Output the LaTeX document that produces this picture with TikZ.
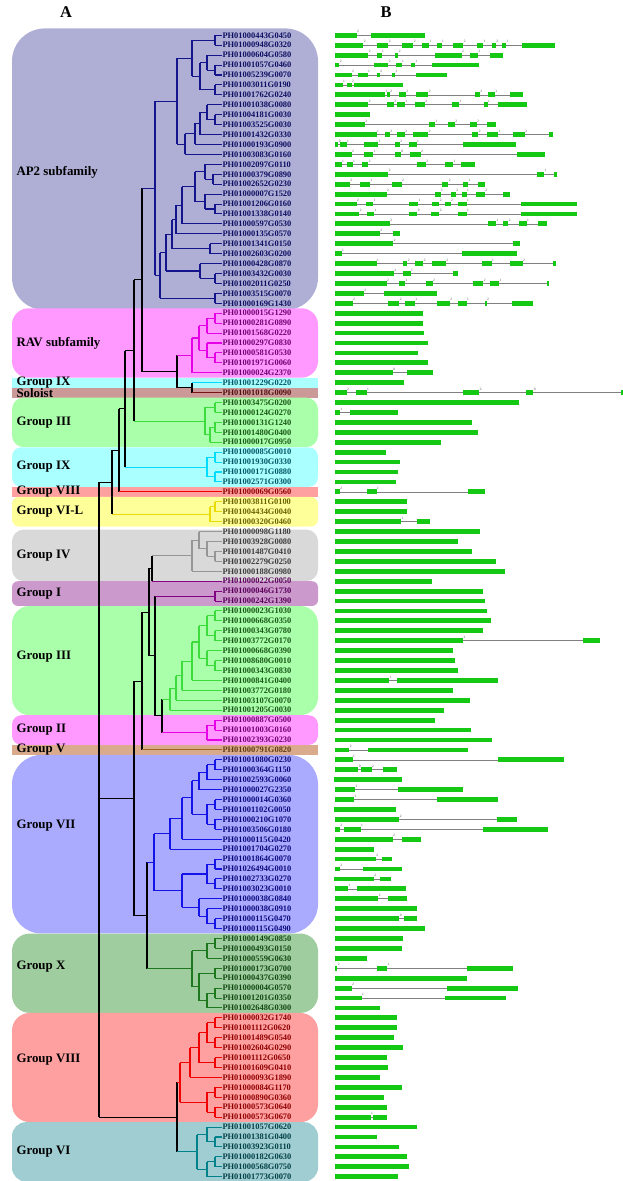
\documentclass[tikz,border=0pt]{standalone}
\usepackage{fontspec}
\setmainfont{Liberation Serif}
\usetikzlibrary{calc}
\definecolor{bap}{RGB}{175,175,214}
\definecolor{brav}{RGB}{255,153,255}
\definecolor{bix}{RGB}{170,255,255}
\definecolor{bsol}{RGB}{204,153,153}
\definecolor{bthree}{RGB}{170,255,170}
\definecolor{beight}{RGB}{255,160,160}
\definecolor{bsixl}{RGB}{255,255,153}
\definecolor{bfour}{RGB}{217,217,217}
\definecolor{bone}{RGB}{204,153,204}
\definecolor{bfive}{RGB}{217,170,140}
\definecolor{bseven}{RGB}{170,170,255}
\definecolor{bten}{RGB}{160,205,160}
\definecolor{bsix}{RGB}{160,205,210}
\definecolor{apblue}{RGB}{20,20,140}
\definecolor{crav}{RGB}{230,0,230}
\definecolor{cix}{RGB}{0,220,255}
\definecolor{csol}{RGB}{120,20,20}
\definecolor{cthree}{RGB}{60,220,60}
\definecolor{ceight}{RGB}{240,0,0}
\definecolor{csixl}{RGB}{235,220,0}
\definecolor{cfour}{RGB}{150,150,150}
\definecolor{cone}{RGB}{130,0,130}
\definecolor{cfive}{RGB}{160,100,30}
\definecolor{cseven}{RGB}{20,20,230}
\definecolor{cten}{RGB}{30,120,30}
\definecolor{csix}{RGB}{0,130,140}
\definecolor{exongreen}{RGB}{20,200,20}

% tree joint: name, x, child A, colour A, child B, colour B, colour of the vertical
\newcommand\jn[7]{%
  \coordinate (#1m) at ($(#3)!.5!(#5)$);
  \coordinate (#1) at (#1m -| #2,0);
  \draw[#7] (#1 |- #3) -- (#1 |- #5);
  \draw[#4] (#1 |- #3) -- (#3);
  \draw[#6] (#1 |- #5) -- (#5);}
\newcommand\tn[5]{\jn{#2}{#3}{#4}{#1}{#5}{#1}{#1}}
% group box: [label shift], first leaf, last leaf, fill, radius, label
\newcommand\grp[6][0]{%
  \fill[#4, rounded corners=#5] (12,{35.3+(#2-1)*9.925-4.9}) rectangle (318,{35.3+(#3-1)*9.925+4.9});
  \node[grplabel] at (16,{35.3+(#2+#3-2)*9.925/2+#1}) {#6};}
% gene model: leaf row, exons start/end/phase
\newcommand\gene[2]{%
  \pgfmathsetmacro\gy{35.3+(#1-1)*9.925}
  \foreach \a/\b/\p [count=\c] in {#2}{%
    \ifnum\c>1 \draw[intron] (\lastb,\gy) -- (\a,\gy);\fi
    \fill[exongreen] (\a,\gy-2.4) rectangle (\b,\gy+2.4);
    \node[phase] at (\b+4,\gy-1.8) {\p};
    \xdef\lastb{\b}}}

\tikzset{
  leaf/.style={anchor=west, inner sep=0pt, font=\fontsize{7.2}{8}\selectfont\bfseries},
  grplabel/.style={anchor=west, inner sep=0pt, font=\fontsize{11}{12}\selectfont\bfseries},
  intron/.style={gray, line width=0.2mm},
  phase/.style={anchor=south, inner sep=0pt, text=black!70, font=\fontsize{3}{3}\selectfont},
}

\begin{document}
\begin{tikzpicture}[x=0.3mm, y=-0.3mm, line width=0.9pt]
\useasboundingbox (0,0) rectangle (623,1181);

% coloured groups
\grp[3]{0.8}{28.2}{bap}{28}{AP2 subfamily}
\grp{29}{35}{brav}{14}{RAV subfamily}
\grp{36}{36}{bix}{0}{Group IX}
\grp{37}{37}{bsol}{0}{Soloist}
\grp{38}{42}{bthree}{10}{Group III}
\grp{43}{46}{bix}{8}{Group IX}
\grp{47}{47}{beight}{0}{Group VIII}
\grp{48}{50}{bsixl}{6}{Group VI-L}
\grp{51.3}{55.5}{bfour}{10}{Group IV}
\grp{56.5}{58}{bone}{5}{Group I}
\grp[-4]{59}{69}{bthree}{15}{Group III}
\grp{70}{72}{brav}{8}{Group II}
\grp{73}{73}{bfive}{0}{Group V}
\grp[-19]{74}{91}{bseven}{25}{Group VII}
\grp[-7]{92}{99}{bten}{15}{Group X}
\grp[-8]{100}{110}{beight}{15}{Group VIII}
\grp{111}{116}{bsix}{12}{Group VI}

\node[font=\fontsize{14}{14}\selectfont\bfseries] (pa) at (66,12) {A};
\node[font=\fontsize{14}{14}\selectfont\bfseries] (pb) at (386,12) {B};

% leaves
\foreach \n [count=\k from 1] in {PH01000443G0450,PH01000948G0320,PH01000604G0580,PH01001057G0460,PH01005239G0070,PH01003011G0190,PH01001762G0240,PH01001038G0080,PH01004181G0030,PH01003525G0030,PH01001432G0330,PH01000193G0900,PH01003083G0160,PH01002097G0110,PH01000379G0890,PH01002652G0230,PH01000007G1520,PH01001206G0160,PH01001338G0140,PH01000597G0530,PH01000135G0570,PH01001341G0150,PH01002603G0200,PH01000428G0870,PH01003432G0030,PH01002011G0250,PH01003515G0070,PH01000169G1430}
  \node[leaf, text=apblue!70!black] (l\k) at (222,{35.3+(\k-1)*9.925}) {\n};
\foreach \n [count=\k from 29] in {PH01000015G1290,PH01000281G0890,PH01001568G0220,PH01000297G0830,PH01000581G0530,PH01001971G0060,PH01000024G2370}
  \node[leaf, text=crav!50!black] (l\k) at (222,{35.3+(\k-1)*9.925}) {\n};
\node[leaf, text=cix!40!black] (l36) at (222,{35.3+35*9.925}) {PH01001229G0220};
\node[leaf, text=csol!70!black] (l37) at (222,{35.3+36*9.925}) {PH01001018G0090};
\foreach \n [count=\k from 38] in {PH01003475G0200,PH01000124G0270,PH01000131G1240,PH01001480G0400,PH01000017G0950}
  \node[leaf, text=cthree!40!black] (l\k) at (222,{35.3+(\k-1)*9.925}) {\n};
\foreach \n [count=\k from 43] in {PH01000085G0010,PH01001930G0330,PH01000171G0880,PH01002571G0300}
  \node[leaf, text=cix!40!black] (l\k) at (222,{35.3+(\k-1)*9.925}) {\n};
\node[leaf, text=ceight!60!black] (l47) at (222,{35.3+46*9.925}) {PH01000069G0560};
\foreach \n [count=\k from 48] in {PH01003811G0100,PH01004434G0040,PH01000320G0460}
  \node[leaf, text=csixl!45!black] (l\k) at (222,{35.3+(\k-1)*9.925}) {\n};
\foreach \n [count=\k from 51] in {PH01000098G1180,PH01003928G0080,PH01001487G0410,PH01002279G0250,PH01000188G0980}
  \node[leaf, text=cfour!40!black] (l\k) at (222,{35.3+(\k-1)*9.925}) {\n};
\foreach \n [count=\k from 56] in {PH01000022G0050,PH01000046G1730,PH01000242G1390}
  \node[leaf, text=cone!70!black] (l\k) at (222,{35.3+(\k-1)*9.925}) {\n};
\foreach \n [count=\k from 59] in {PH01000023G1030,PH01000668G0350,PH01000343G0780,PH01003772G0170,PH01000668G0390,PH01008680G0010,PH01000343G0830,PH01000841G0400,PH01003772G0180,PH01003107G0070,PH01001205G0030}
  \node[leaf, text=cthree!40!black] (l\k) at (222,{35.3+(\k-1)*9.925}) {\n};
\foreach \n [count=\k from 70] in {PH01000887G0500,PH01001003G0160,PH01002393G0230}
  \node[leaf, text=crav!50!black] (l\k) at (222,{35.3+(\k-1)*9.925}) {\n};
\node[leaf, text=cfive!60!black] (l73) at (222,{35.3+72*9.925}) {PH01000791G0820};
\foreach \n [count=\k from 74] in {PH01001080G0230,PH01000364G1150,PH01002593G0060,PH01000027G2350,PH01000014G0360,PH01001102G0050,PH01000210G1070,PH01003506G0180,PH01000115G0420,PH01001704G0270,PH01001864G0070,PH01026494G0010,PH01002733G0270,PH01003023G0010,PH01000038G0840,PH01000038G0910,PH01000115G0470,PH01000115G0490}
  \node[leaf, text=cseven!55!black] (l\k) at (222,{35.3+(\k-1)*9.925}) {\n};
\foreach \n [count=\k from 92] in {PH01000149G0850,PH01000493G0150,PH01000559G0630,PH01000173G0700,PH01000437G0390,PH01000004G0570,PH01001201G0350,PH01002648G0300}
  \node[leaf, text=cten!60!black] (l\k) at (222,{35.3+(\k-1)*9.925}) {\n};
\foreach \n [count=\k from 100] in {PH01000032G1740,PH01001112G0620,PH01001489G0540,PH01002604G0290,PH01001112G0650,PH01001609G0410,PH01000093G1890,PH01000084G1170,PH01000890G0360,PH01000573G0640,PH01000573G0670}
  \node[leaf, text=ceight!60!black] (l\k) at (222,{35.3+(\k-1)*9.925}) {\n};
\foreach \n [count=\k from 111] in {PH01001057G0620,PH01001381G0400,PH01003923G0110,PH01000182G0630,PH01000568G0750,PH01001773G0070}
  \node[leaf, text=csix!50!black] (l\k) at (222,{35.3+(\k-1)*9.925}) {\n};

% AP2 subfamily
\tn{apblue}{a1}{215}{l1.west}{l2.west}
\tn{apblue}{a2}{215}{l4.west}{l5.west}
\tn{apblue}{a3}{207}{l3.west}{a2}
\tn{apblue}{a4}{215}{l6.west}{l7.west}
\tn{apblue}{a5}{200}{a3}{a4}
\tn{apblue}{a6}{192}{a1}{a5}
\tn{apblue}{a7}{215}{l9.west}{l10.west}
\tn{apblue}{a8}{207}{l8.west}{a7}
\tn{apblue}{a9}{200}{a8}{l11.west}
\tn{apblue}{a10}{195}{a9}{l12.west}
\tn{apblue}{a11}{185}{a10}{l13.west}
\tn{apblue}{a12}{177}{a6}{a11}
\tn{apblue}{a13}{213}{l15.west}{l16.west}
\tn{apblue}{a14}{205}{l14.west}{a13}
\tn{apblue}{a15}{215}{l18.west}{l19.west}
\tn{apblue}{a16}{205}{l17.west}{a15}
\tn{apblue}{a17}{195}{a14}{a16}
\tn{apblue}{a18}{182}{a17}{l20.west}
\tn{apblue}{a19}{176}{a18}{l21.west}
\tn{apblue}{a20}{210}{l22.west}{l23.west}
\tn{apblue}{a21}{172}{a19}{a20}
\tn{apblue}{a22}{215}{l25.west}{l26.west}
\tn{apblue}{a24}{200}{l24.west}{a22}
\tn{apblue}{a25}{166}{a21}{a24}
\tn{apblue}{a23}{215}{l27.west}{l28.west}
\tn{apblue}{a26}{160}{a25}{a23}
\tn{apblue}{a27}{155}{a12}{a26}
% RAV subfamily
\tn{crav}{r1}{215}{l29.west}{l30.west}
\tn{crav}{r2}{207}{r1}{l31.west}
\tn{crav}{r3}{215}{l33.west}{l34.west}
\tn{crav}{r4}{207}{l32.west}{r3}
\tn{crav}{r5}{199}{r2}{r4}
\tn{crav}{r6}{192}{r5}{l35.west}
% Group III
\tn{cthree}{g1}{215}{l38.west}{l39.west}
\tn{cthree}{g2}{215}{l40.west}{l41.west}
\tn{cthree}{g3}{210}{g2}{l42.west}
\tn{cthree}{g4}{205}{g1}{g3}
% Group IX
\tn{cix}{c1}{215}{l43.west}{l44.west}
\tn{cix}{c2}{215}{l45.west}{l46.west}
\tn{cix}{c3}{207}{c1}{c2}
% Group VI-L
\tn{csixl}{y1}{215}{l48.west}{l49.west}
\tn{csixl}{y2}{210}{y1}{l50.west}
% Group IV and I
\tn{cfour}{i1}{215}{l53.west}{l54.west}
\tn{cfour}{i2}{207}{l52.west}{i1}
\tn{cfour}{i3}{199}{l51.west}{i2}
\tn{cfour}{i4}{192}{i3}{l55.west}
\tn{cone}{p1}{215}{l57.west}{l58.west}
% Group III
\tn{cthree}{h1}{215}{l59.west}{l60.west}
\tn{cthree}{h2}{215}{l61.west}{l62.west}
\tn{cthree}{h3}{207}{h1}{h2}
\tn{cthree}{h4}{215}{l64.west}{l65.west}
\tn{cthree}{h5}{207}{l63.west}{h4}
\tn{cthree}{h6}{199}{h3}{h5}
\tn{cthree}{h7}{192}{h6}{l66.west}
\tn{cthree}{h8}{182}{h7}{l67.west}
\tn{cthree}{h9}{176}{h8}{l68.west}
\tn{cthree}{h10}{170}{h9}{l69.west}
% Group II
\tn{crav}{q1}{215}{l70.west}{l71.west}
\tn{crav}{q2}{207}{q1}{l72.west}
% Group VII
\tn{cseven}{v1}{215}{l74.west}{l75.west}
\tn{cseven}{v2}{207}{v1}{l76.west}
\tn{cseven}{v3}{199}{v2}{l77.west}
\tn{cseven}{v4}{215}{l78.west}{l79.west}
\tn{cseven}{v5}{215}{l80.west}{l81.west}
\tn{cseven}{v6}{207}{v4}{v5}
\tn{cseven}{v7}{192}{v3}{v6}
\tn{cseven}{v8}{182}{v7}{l82.west}
\tn{cseven}{v9}{170}{v8}{l83.west}
\tn{cseven}{v10}{215}{l84.west}{l85.west}
\tn{cseven}{v11}{215}{l86.west}{l87.west}
\tn{cseven}{v12}{207}{v10}{v11}
\tn{cseven}{v13}{215}{l90.west}{l91.west}
\tn{cseven}{v14}{207}{l89.west}{v13}
\tn{cseven}{v15}{199}{l88.west}{v14}
\tn{cseven}{v16}{182}{v12}{v15}
\tn{cseven}{v17}{154}{v9}{v16}
% Group X
\tn{cten}{k1}{215}{l92.west}{l93.west}
\tn{cten}{k2}{207}{k1}{l94.west}
\tn{cten}{k3}{215}{l95.west}{l96.west}
\tn{cten}{k4}{215}{l97.west}{l98.west}
\tn{cten}{k5}{207}{k4}{l99.west}
\tn{cten}{k6}{199}{k3}{k5}
\tn{cten}{k7}{192}{k2}{k6}
% Group VIII
\tn{ceight}{e1}{215}{l100.west}{l101.west}
\tn{ceight}{e2}{215}{l102.west}{l103.west}
\tn{ceight}{e3}{207}{e1}{e2}
\tn{ceight}{e4}{215}{l104.west}{l105.west}
\tn{ceight}{e5}{199}{e3}{e4}
\tn{ceight}{e6}{190}{e5}{l106.west}
\tn{ceight}{e7}{215}{l107.west}{l108.west}
\tn{ceight}{e8}{215}{l109.west}{l110.west}
\tn{ceight}{e9}{207}{e7}{e8}
\tn{ceight}{e10}{180}{e6}{e9}
% Group VI
\tn{csix}{f1}{215}{l112.west}{l113.west}
\tn{csix}{f2}{207}{l111.west}{f1}
\tn{csix}{f3}{215}{l114.west}{l115.west}
\tn{csix}{f4}{207}{f3}{l116.west}
\tn{csix}{f5}{197}{f2}{f4}
% backbone
\jn{s1}{192}{l36.west}{cix}{l37.west}{csol}{black}
\jn{s0}{177}{r6}{crav}{s1}{black}{black}
\jn{n1}{142}{a27}{apblue}{s0}{black}{black}
\jn{n2}{134}{n1}{black}{g4}{cthree}{black}
\jn{n3}{125}{n2}{black}{c3}{cix}{black}
\jn{n4}{119}{n3}{black}{l47.west}{ceight}{black}
\jn{n5}{112}{n4}{black}{y2}{csixl}{black}
\jn{m1}{162}{h10}{cthree}{q2}{crav}{black}
\jn{m2}{155}{p1}{cone}{m1}{black}{black}
\jn{m3}{152}{i4}{cfour}{l56.west}{cone}{black}
\jn{m4}{149}{m3}{black}{m2}{black}{black}
\jn{m5}{142}{m4}{black}{l73.west}{cfive}{black}
\jn{m6}{147}{v17}{cseven}{k7}{cten}{black}
\jn{m7}{134}{m5}{black}{m6}{black}{black}
\jn{m8}{177}{e10}{ceight}{f5}{csix}{black}
\jn{rt1}{99}{n5}{black}{m7}{black}{black}
\jn{rt}{99}{rt1}{black}{m8}{black}{black}

% gene structures
\begin{scope}[x=0.1mm, xshift=60mm]
\gene{1}{405/470/2, 512/675/}
\gene{2}{405/490/2, 530/565/2, 605/640/2, 665/688/1, 710/725/1, 760/790/2, 830/850/1, 875/888/2, 905/918/1, 965/1065/}
\gene{3}{405/505/2, 530/545/1, 585/595/2, 705/785/2, 810/835/1, 870/908/}
\gene{4}{405/418/2, 522/565/2, 588/605/1, 632/645/1, 697/838/}
\gene{5}{405/455/2, 475/503/1, 530/540/2, 575/585/1, 648/740/}
\gene{6}{405/428/1, 440/455/2, 462/608/}
\gene{7}{405/555/1, 560/570/2, 597/618/2, 648/685/2, 825/840/2, 865/885/1, 930/968/}
\gene{8}{405/505/2, 560/582/2, 592/615/1, 645/675/2, 757/778/1, 853/863/1, 895/980/}
\gene{9}{405/510/}
\gene{10}{405/495/2, 688/705/1, 745/765/2, 810/830/2, 860/888/}
\gene{11}{405/530/1, 555/570/2, 592/615/2, 640/685/2, 815/835/2, 860/895/1, 940/975/2, 1048/1060/}
\gene{12}{405/415/0, 420/440/1, 492/535/1, 585/600/2, 628/650/1, 790/948/}
\gene{13}{405/455/2, 492/520/1, 585/603/0, 630/662/2, 952/1035/}
\gene{14}{405/425/1, 440/458/1, 485/505/2, 652/678/2, 735/760/1, 782/825/}
\gene{15}{405/565/2, 1012/1032/1, 1062/1072/}
\gene{16}{405/450/2, 480/510/1, 577/605/2, 725/745/2, 790/805/1, 835/855/}
\gene{17}{405/560/2, 705/722/1, 752/768/2, 785/800/1, 828/855/2, 910/930/}
\gene{18}{405/470/2, 497/520/1, 628/655/1, 695/718/2, 735/752/2, 775/800/1, 962/1130/}
\gene{19}{405/478/2, 502/522/1, 628/652/0, 692/718/2, 775/800/1, 962/1130/}
\gene{20}{405/570/2, 865/888/1, 908/925/2, 958/980/1, 1015/1040/}
\gene{21}{405/540/2, 580/600/}
\gene{22}{405/580/2, 940/960/}
\gene{23}{405/425/1, 785/950/}
\gene{24}{405/530/1, 610/622/2, 645/670/2, 695/738/2, 845/875/1, 930/968/2, 1058/1068/}
\gene{25}{405/582/2, 610/632/1, 758/775/}
\gene{26}{405/560/2, 598/615/1, 678/698/2, 820/850/2, 870/898/1, 1040/1048/}
\gene{27}{405/492/2, 552/712/}
\gene{28}{405/458/2, 565/598/2, 615/645/1, 710/750/2, 775/800/1, 855/860/2, 935/998/}
\gene{29}{405/668/}
\gene{30}{405/670/}
\gene{31}{405/672/}
\gene{32}{405/685/}
\gene{33}{405/655/}
\gene{34}{405/685/}
\gene{35}{405/578/0, 620/698/}
\gene{36}{405/612/}
\gene{37}{405/440/2, 468/500/1, 788/838/2, 978/1000/0, 1262/1269/}
\gene{38}{405/958/}
\gene{39}{405/420/1, 450/595/}
\gene{40}{405/815/}
\gene{41}{405/835/}
\gene{42}{405/722/}
\gene{43}{405/558/}
\gene{44}{405/600/}
\gene{45}{405/595/}
\gene{46}{405/587/}
\gene{47}{405/420/2, 502/530/1, 805/855/}
\gene{48}{405/622/}
\gene{49}{405/620/}
\gene{50}{405/603/1, 650/690/}
\gene{51}{405/840/}
\gene{52}{405/775/}
\gene{53}{405/815/}
\gene{54}{405/888/}
\gene{55}{405/915/}
\gene{56}{405/695/}
\gene{57}{405/848/}
\gene{58}{405/855/}
\gene{59}{405/862/}
\gene{60}{405/872/}
\gene{61}{405/850/}
\gene{62}{405/790/1, 1148/1200/}
\gene{63}{405/760/}
\gene{64}{405/765/}
\gene{65}{405/775/}
\gene{66}{405/568/1, 590/895/}
\gene{67}{405/760/}
\gene{68}{405/810/}
\gene{69}{405/732/}
\gene{70}{405/705/}
\gene{71}{405/812/}
\gene{72}{405/875/}
\gene{73}{405/448/2, 505/805/}
\gene{74}{405/458/1, 893/1093/}
\gene{75}{405/475/0, 482/515/2, 548/592/}
\gene{76}{402/607/}
\gene{77}{405/465/1, 595/790/}
\gene{78}{405/462/1, 710/895/}
\gene{79}{402/587/}
\gene{80}{405/598/2, 890/952/}
\gene{81}{405/420/2, 432/482/1, 850/1045/}
\gene{82}{405/578/2, 605/662/}
\gene{83}{405/522/}
\gene{84}{405/528/2, 545/575/}
\gene{85}{405/420/2, 488/607/}
\gene{86}{402/522/2, 540/572/}
\gene{87}{405/445/1, 472/618/}
\gene{88}{405/535/2, 565/620/}
\gene{89}{405/652/}
\gene{90}{405/598/0, 612/652/}
\gene{91}{405/675/}
\gene{92}{405/610/}
\gene{93}{405/605/}
\gene{94}{405/500/}
\gene{95}{405/412/2, 532/562/1, 802/938/}
\gene{96}{405/800/}
\gene{97}{405/455/2, 742/955/}
\gene{98}{405/485/1, 735/918/}
\gene{99}{405/540/}
\gene{100}{405/590/}
\gene{101}{405/592/}
\gene{102}{405/582/}
\gene{103}{405/608/}
\gene{104}{405/562/}
\gene{105}{405/565/}
\gene{106}{405/540/}
\gene{107}{405/605/}
\gene{108}{405/552/}
\gene{109}{405/562/}
\gene{110}{405/512/1, 520/560/}
\gene{111}{405/652/}
\gene{112}{405/530/}
\gene{113}{405/598/}
\gene{114}{405/622/}
\gene{115}{405/628/}
\gene{116}{405/595/}
\end{scope}
\end{tikzpicture}
\end{document}
